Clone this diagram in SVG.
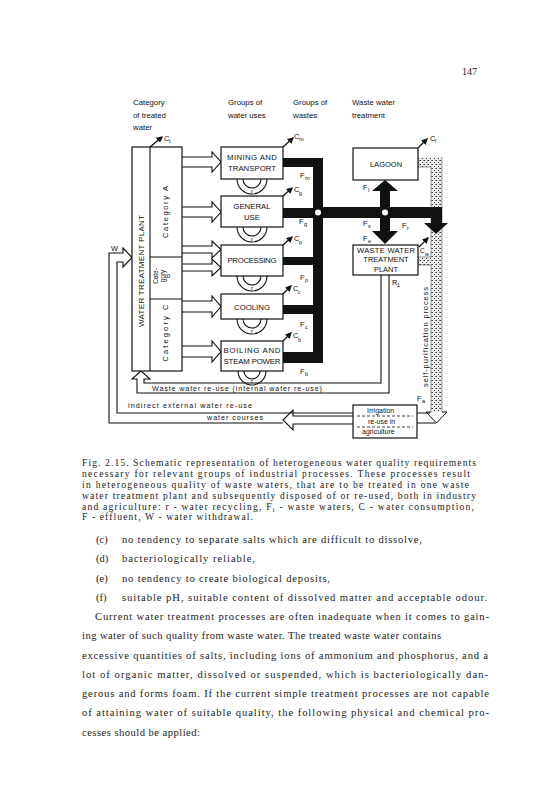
<svg xmlns="http://www.w3.org/2000/svg" width="558" height="800" viewBox="0 0 558 800">
<defs>
<style>
.s{font-family:"Liberation Sans",Arial,sans-serif;fill:#111}
.h{font-size:7.8px}
.b{font-size:7.8px;text-anchor:middle}
.sm{font-size:7.5px}
.sub{font-size:5.5px}
.ln{fill:none;stroke:#111;stroke-width:1.1}
.bx{fill:#fff;stroke:#111;stroke-width:1.2}
.thick{fill:#111}
.cap{font-family:"Liberation Serif","Times New Roman",serif;font-size:9.6px;fill:#222}
.body{font-family:"Liberation Serif","Times New Roman",serif;font-size:10.6px;fill:#222}
</style>
<marker id="ah" viewBox="0 0 10 10" refX="8" refY="5" markerWidth="5" markerHeight="5" orient="auto"><path d="M0,0 L10,5 L0,10 z" fill="#111"/></marker>
<pattern id="stip" width="4" height="4" patternUnits="userSpaceOnUse"><rect width="4" height="4" fill="#ececec"/><rect x="0" y="0" width="1" height="1" fill="#333"/><rect x="2" y="2" width="1" height="1" fill="#444"/><rect x="3" y="0" width="1" height="1" fill="#777"/></pattern>
</defs>
<rect width="558" height="800" fill="#fff"/>

<text x="462" y="75" class="cap" style="font-size:10px">147</text>

<!-- headers -->
<g id="headers" class="s h">
<text x="133" y="105">Category</text>
<text x="133" y="118">of treated</text>
<text x="133" y="130">water</text>
<text x="228" y="105">Groups of</text>
<text x="228" y="118">water uses</text>
<text x="293" y="105">Groups of</text>
<text x="293" y="118">wastes</text>
<text x="352" y="105">Waste water</text>
<text x="352" y="118">treatment</text>
</g>

<!-- stipple self-purification -->
<g id="self-purification">
<rect x="418" y="157" width="24" height="10" fill="url(#stip)"/>
<rect x="431" y="157" width="11" height="256" fill="url(#stip)"/>
<rect x="418" y="257" width="13" height="8" fill="url(#stip)"/>
<path d="M431,167 V257 M431,265 V412 M442,157 V412" fill="none" stroke="#555" stroke-width="0.6"/>
<path d="M418,167 H431 M418,257 H431 M418,265 H431" fill="none" stroke="#555" stroke-width="0.6"/>
<path d="M431,412 H426 L436.5,423 L447,412 H442" fill="#fff" stroke="#111" stroke-width="1"/>
<text transform="translate(428,337) rotate(-90)" class="s sm" text-anchor="middle" textLength="100" lengthAdjust="spacing">self-purification process</text>
<text x="417" y="401" class="s sm">F</text><text x="422" y="403" class="s sub">a</text>
</g>

<!-- connectors -->
<g id="connectors">
<!-- black waste water collection -->
<path class="thick" d="M283,158 H323 V363 H283 V352 H313 V314 H283 V305 H313 V265 H283 V257 H313 V218 H283 V208 H313 V167 H283 Z"/>
<rect class="thick" x="313" y="207" width="129" height="11"/>
<rect class="thick" x="431" y="207" width="11" height="17"/>
<path class="thick" d="M424,223 H448 L436,234 Z"/>
<rect class="thick" x="380" y="190" width="10" height="42"/>
<path class="thick" d="M372,191 H398 L385,180 Z"/>
<path class="thick" d="M372,231 H398 L385,244 Z"/>
<circle cx="318" cy="212.5" r="3" fill="#fff"/>
<circle cx="385" cy="212.5" r="3" fill="#fff"/>

<!-- inlet hollow arrows -->
<path class="ln" fill="#fff" d="M182,157 H212 V152 L221,162 L212,172 V167 H182"/>
<path class="ln" fill="#fff" d="M182,207 H212 V202 L221,212 L212,222 V217 H182"/>
<path class="ln" fill="#fff" d="M182,246 H212 V241 L221,249.5 L212,258 V253 H182"/>
<path class="ln" fill="#fff" d="M182,264 H212 V259 L221,267.5 L212,276 V271 H182"/>
<path class="ln" fill="#fff" d="M182,301 H212 V296 L221,306.5 L212,317 V312 H182"/>
<path class="ln" fill="#fff" d="M182,346 H212 V341 L221,351.5 L212,362 V357 H182"/>

<!-- W withdrawal and external loops -->
<path class="ln" d="M353,413 H117 V262 H123 V267 L132,257.5 L123,248 V253 H109 V423 H283"/>
<path class="ln" fill="#fff" d="M353,416 H293 V410 L283,420 L293,430 V424 H353"/>
<!-- internal re-use pipe -->
<path class="ln" d="M389,275 V393 H137 V379 H132 L141,371 L150,379 H144 V383 H381 V275"/>
<!-- from self purification to irrigation -->
<path class="ln" d="M417,413 H430 M417,423 H436"/>

<!-- consumption arrows -->
<g stroke="#111" stroke-width="1.3" marker-end="url(#ah)">
<line x1="150" y1="147" x2="162" y2="137"/>
<line x1="283" y1="147" x2="293" y2="138"/>
<line x1="283" y1="196" x2="292" y2="188"/>
<line x1="283" y1="245" x2="292" y2="237"/>
<line x1="283" y1="294" x2="291" y2="286"/>
<line x1="283" y1="341" x2="291" y2="333"/>
<line x1="418" y1="148" x2="427" y2="139"/>
<line x1="419" y1="247" x2="428" y2="238"/>
</g>
<!-- recycling loops -->
<g class="ln">
<path d="M237,179 A15,15 0 0 0 267,179 M243,179 A9,9 0 0 0 261,179"/>
<path d="M237,227 A15,15 0 0 0 267,227 M243,227 A9,9 0 0 0 261,227"/>
<path d="M237,276 A15,15 0 0 0 267,276 M243,276 A9,9 0 0 0 261,276"/>
<path d="M237,319 A15,15 0 0 0 267,319 M243,319 A9,9 0 0 0 261,319"/>
<path d="M238,371 A14,14 0 0 0 266,371 M244,371 A8,8 0 0 0 260,371"/>
</g>
</g>

<g id="labels" class="s">
<text x="111" y="251" class="sm">W</text>
<text x="164" y="141" class="sm">C</text><text x="169" y="143" class="sub">t</text>
<text x="294" y="139" class="sm">C</text><text x="299" y="141" class="sub">m</text>
<text x="300" y="178" class="sm">F</text><text x="305" y="180" class="sub">m</text>
<text x="294" y="192" class="sm">C</text><text x="299" y="195" class="sub">g</text>
<text x="299" y="224" class="sm">F</text><text x="304" y="226" class="sub">g</text>
<text x="294" y="241" class="sm">C</text><text x="299" y="244" class="sub">p</text>
<text x="300" y="280" class="sm">F</text><text x="305" y="282" class="sub">p</text>
<text x="293" y="291" class="sm">C</text><text x="298" y="294" class="sub">c</text>
<text x="300" y="327" class="sm">F</text><text x="305" y="329" class="sub">c</text>
<text x="293" y="338" class="sm">C</text><text x="298" y="342" class="sub">b</text>
<text x="300" y="374" class="sm">F</text><text x="305" y="376" class="sub">b</text>
<text x="430" y="141" class="sm">C</text><text x="435" y="143" class="sub">l</text>
<text x="363" y="190" class="sm">F</text><text x="368" y="192" class="sub">l</text>
<text x="363" y="226" class="sm">F</text><text x="368" y="228" class="sub">s</text>
<text x="402" y="228" class="sm">F</text><text x="407" y="230" class="sub">r</text>
<text x="363" y="241" class="sm">F</text><text x="368" y="243" class="sub">e</text>
<text x="420" y="253" class="sm" style="font-size:6.5px">C</text><text x="425" y="256" class="sub">w</text>
<text x="392" y="285" class="sm">R</text><text x="397" y="287" class="sub">1</text>
<g style="font-size:6px" text-anchor="middle">
<text x="252" y="193">r</text><text x="252" y="241">r</text><text x="252" y="290">r</text><text x="252" y="333">r</text><text x="252" y="383">r</text>
</g>
<text x="152" y="391" style="font-size:7.2px" textLength="170" lengthAdjust="spacing">Waste water re-use (internal water re-use)</text>
<text x="128" y="408" style="font-size:7.2px" textLength="124" lengthAdjust="spacing">indirect external water re-use</text>
<text x="207" y="420" style="font-size:7.2px" textLength="56" lengthAdjust="spacing">water courses</text>
</g>

<!-- nodes -->
<g id="water-treatment-plant">
<rect class="bx" x="132" y="147" width="50" height="224"/>
<path class="ln" d="M150,147 V371 M150,257 H182 M150,299 H182"/>
<text class="s" style="font-size:8px" text-anchor="middle" transform="translate(144,271) rotate(-90)" textLength="112" lengthAdjust="spacing">WATER TREATMENT PLANT</text>
<text class="s" style="font-size:7.5px" text-anchor="middle" transform="translate(168,212) rotate(-90)" textLength="52" lengthAdjust="spacing">Category A</text>
<text class="s" style="font-size:6.3px" text-anchor="middle" transform="translate(158,276) rotate(-90)">Cate-</text>
<text class="s" style="font-size:6.3px" text-anchor="middle" transform="translate(164.5,276) rotate(-90)">gory</text>
<text class="s" style="font-size:6.3px" text-anchor="middle" transform="translate(170,276) rotate(-90)">B</text>
<text class="s" style="font-size:7.5px" text-anchor="middle" transform="translate(168,333) rotate(-90)" textLength="57" lengthAdjust="spacing">Category C</text>
</g>
<g id="mining">
<rect class="bx" x="221" y="147" width="62" height="32"/>
<text class="s b" x="252" y="160" textLength="50" lengthAdjust="spacing">MINING AND</text>
<text class="s b" x="252" y="171" textLength="48" lengthAdjust="spacing">TRANSPORT</text>
</g>
<g id="general-use">
<rect class="bx" x="221" y="196" width="62" height="31"/>
<text class="s b" x="252" y="209">GENERAL</text>
<text class="s b" x="252" y="220">USE</text>
</g>
<g id="processing">
<rect class="bx" x="221" y="245" width="62" height="31"/>
<text class="s b" x="252" y="263" textLength="49" lengthAdjust="spacing">PROCESSING</text>
</g>
<g id="cooling">
<rect class="bx" x="221" y="294" width="62" height="25"/>
<text class="s b" x="252" y="310">COOLING</text>
</g>
<g id="boiling">
<rect class="bx" x="221" y="341" width="62" height="30"/>
<text class="s b" x="252" y="353" textLength="57" lengthAdjust="spacing">BOILING AND</text>
<text class="s b" x="252" y="364" textLength="57" lengthAdjust="spacing">STEAM POWER</text>
</g>
<g id="lagoon">
<rect class="bx" x="353" y="148" width="65" height="32"/>
<text class="s b" x="386" y="167" style="font-size:7.5px">LAGOON</text>
</g>
<g id="wwtp">
<rect class="bx" x="353" y="245" width="65" height="30"/>
<text class="s b" x="386" y="253" style="font-size:7.5px" textLength="58" lengthAdjust="spacing">WASTE WATER</text>
<text class="s b" x="386" y="262" style="font-size:7.5px">TREATMENT</text>
<text class="s b" x="386" y="272" style="font-size:7.5px">PLANT</text>
</g>
<g id="irrigation">
<rect class="bx" x="353" y="405" width="64" height="33"/>
<text class="s" x="367" y="413" style="font-size:7px">Irrigation</text>
<text class="s" x="368" y="424" style="font-size:7px">re-use in</text>
<text class="s" x="362" y="434" style="font-size:7px">agriculture</text>
<path d="M357,416 H413 M357,427 H413" stroke="#111" stroke-width="0.8" stroke-dasharray="3,2" fill="none"/>
</g>

<!-- caption -->
<g id="caption" class="cap">
<text x="82" y="466" textLength="394" lengthAdjust="spacing">Fig. 2.15. Schematic representation of heterogeneous water quality requirements</text>
<text x="82" y="477" textLength="388" lengthAdjust="spacing">necessary for relevant groups of industrial processes. These processes result</text>
<text x="82" y="488" textLength="387" lengthAdjust="spacing">in heterogeneous quality of waste waters, that are to be treated in one waste</text>
<text x="82" y="499" textLength="394" lengthAdjust="spacing">water treatment plant and subsequently disposed of or re-used, both in industry</text>
<text x="82" y="510" textLength="392" lengthAdjust="spacing">and agriculture: r - water recycling, F<tspan font-size="7" dy="2">i</tspan><tspan dy="-2"> - waste waters, C - water consumption,</tspan></text>
<text x="82" y="520" textLength="171" lengthAdjust="spacing">F - effluent, W - water withdrawal.</text>
</g>

<!-- body text -->
<g id="body" class="body">
<text x="96" y="543">(c)</text><text x="122" y="543" textLength="300" lengthAdjust="spacing">no tendency to separate salts which are difficult to dissolve,</text>
<text x="96" y="562">(d)</text><text x="122" y="562" textLength="133" lengthAdjust="spacing">bacteriologically reliable,</text>
<text x="96" y="582">(e)</text><text x="122" y="582" textLength="208" lengthAdjust="spacing">no tendency to create biological deposits,</text>
<text x="96" y="601">(f)</text><text x="122" y="601" textLength="365" lengthAdjust="spacing">suitable pH, suitable content of dissolved matter and acceptable odour.</text>
<text x="95" y="620" textLength="394" lengthAdjust="spacing">Current water treatment processes are often inadequate when it comes to gain-</text>
<text x="82" y="639" textLength="359" lengthAdjust="spacing">ing water of such quality from waste water. The treated waste water contains</text>
<text x="82" y="659" textLength="406" lengthAdjust="spacing">excessive quantities of salts, including ions of ammonium and phosphorus, and a</text>
<text x="82" y="678" textLength="406" lengthAdjust="spacing">lot of organic matter, dissolved or suspended, which is bacteriologically dan-</text>
<text x="82" y="697" textLength="407" lengthAdjust="spacing">gerous and forms foam. If the current simple treatment processes are not capable</text>
<text x="82" y="716" textLength="407" lengthAdjust="spacing">of attaining water of suitable quality, the following physical and chemical pro-</text>
<text x="82" y="736" textLength="118" lengthAdjust="spacing">cesses should be applied:</text>
</g>
</svg>
